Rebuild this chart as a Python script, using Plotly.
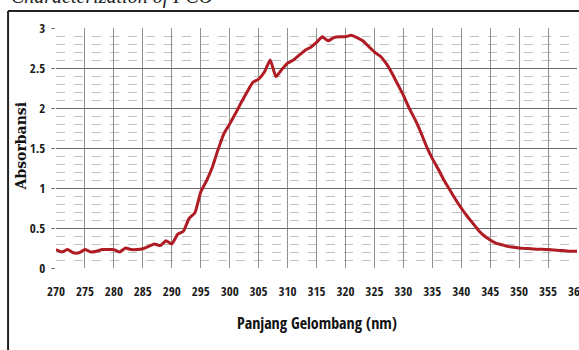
import plotly.graph_objects as go

wavelength_nm = list(range(270, 361))
absorbance = [
    0.23, 0.20, 0.23, 0.19, 0.19, 0.23, 0.20, 0.21, 0.23, 0.23,   # 270-279
    0.23, 0.20, 0.25, 0.23, 0.23, 0.24, 0.27, 0.30, 0.28, 0.34,   # 280-289
    0.30, 0.42, 0.46, 0.62, 0.69, 0.95, 1.09, 1.26, 1.48, 1.68,   # 290-299
    1.80, 1.93, 2.07, 2.20, 2.32, 2.36, 2.45, 2.60, 2.39, 2.48,   # 300-309
    2.56, 2.60, 2.66, 2.72, 2.76, 2.82, 2.89, 2.84, 2.88, 2.89,   # 310-319
    2.89, 2.91, 2.88, 2.84, 2.77, 2.70, 2.65, 2.56, 2.44, 2.30,   # 320-329
    2.16, 2.00, 1.86, 1.70, 1.52, 1.37, 1.24, 1.10, 0.98, 0.86,   # 330-339
    0.75, 0.65, 0.56, 0.47, 0.40, 0.35, 0.31, 0.29, 0.27, 0.26,   # 340-349
    0.25, 0.245, 0.24, 0.235, 0.233, 0.23, 0.225, 0.22, 0.215, 0.21,  # 350-359
    0.21,                                                          # 360
]
x_ticks = list(range(270, 361, 5))
y_ticks = [0, 0.5, 1, 1.5, 2, 2.5, 3]
y_tick_labels = ["0", "0.5", "1", "1.5", "2", "2.5", "3"]

x_title = "Panjang Gelombang (nm)"
y_title = "Absorbansi"
header = "Characterization of PCO"

narrow = "Open Sans Condensed, Roboto Condensed, DejaVu Sans Condensed, sans-serif"
serif = "DejaVu Serif, Liberation Serif, serif"

fig = go.Figure()
fig.add_trace(go.Scatter(
    x=wavelength_nm, y=absorbance, mode="lines",
    line=dict(color="#b01c24", width=3, shape="spline", smoothing=0.4),
    hoverinfo="skip", showlegend=False,
))

fig.update_layout(
    width=579, height=350,
    margin=dict(l=56, r=2, t=28, b=82),
    paper_bgcolor="white", plot_bgcolor="white",
    xaxis=dict(
        range=[270, 360], tickvals=x_ticks, ticktext=[str(v) for v in x_ticks],
        showgrid=True, gridcolor="#8f8f8f", gridwidth=1,
        zeroline=False, showline=False, ticks="", automargin=False,
        tickfont=dict(family=narrow, size=13, color="#1a1a1a"),
        ticklabelstandoff=14, ticklabeloverflow="allow",
    ),
    yaxis=dict(
        range=[0, 3], tickvals=y_ticks, ticktext=y_tick_labels,
        showgrid=True, gridcolor="#6e6e6e", gridwidth=1.2,
        zeroline=False, showline=False, automargin=False,
        ticks="outside", ticklen=4, tickcolor="#777",
        tickfont=dict(family=narrow, size=13, color="#1a1a1a"),
        ticklabelstandoff=3,
        minor=dict(dtick=0.1, showgrid=True, gridcolor="#c0c0c0", griddash="dash", gridwidth=1),
    ),
)

fig.add_annotation(text=x_title, xref="paper", yref="paper", x=0.5, y=-0.2276,
                   xanchor="center", yanchor="middle", showarrow=False,
                   font=dict(family=narrow, size=16, color="#111"))
fig.add_annotation(text="<b>" + y_title + "</b>", xref="paper", yref="paper", x=-0.067, y=0.507,
                   xanchor="center", yanchor="middle", textangle=-90, showarrow=False,
                   font=dict(family=serif, size=14, color="#111"))
fig.add_annotation(text="<i>" + header + "</i>", xref="paper", yref="paper", x=0.305, y=1.13,
                   xanchor="right", yanchor="middle", showarrow=False,
                   font=dict(family="Liberation Serif, serif", size=20, color="#222"))

# outer frame of the scanned figure
fig.add_shape(type="line", xref="paper", yref="paper", x0=-0.092, x1=-0.092, y0=1.071, y1=-0.5,
              line=dict(color="#222", width=2))
fig.add_shape(type="line", xref="paper", yref="paper", x0=-0.092, x1=1.1, y0=1.071, y1=1.071,
              line=dict(color="#222", width=2))

fig.write_html("out.html", config={"displayModeBar": False},
               post_script="document.body.style.margin='0';")
